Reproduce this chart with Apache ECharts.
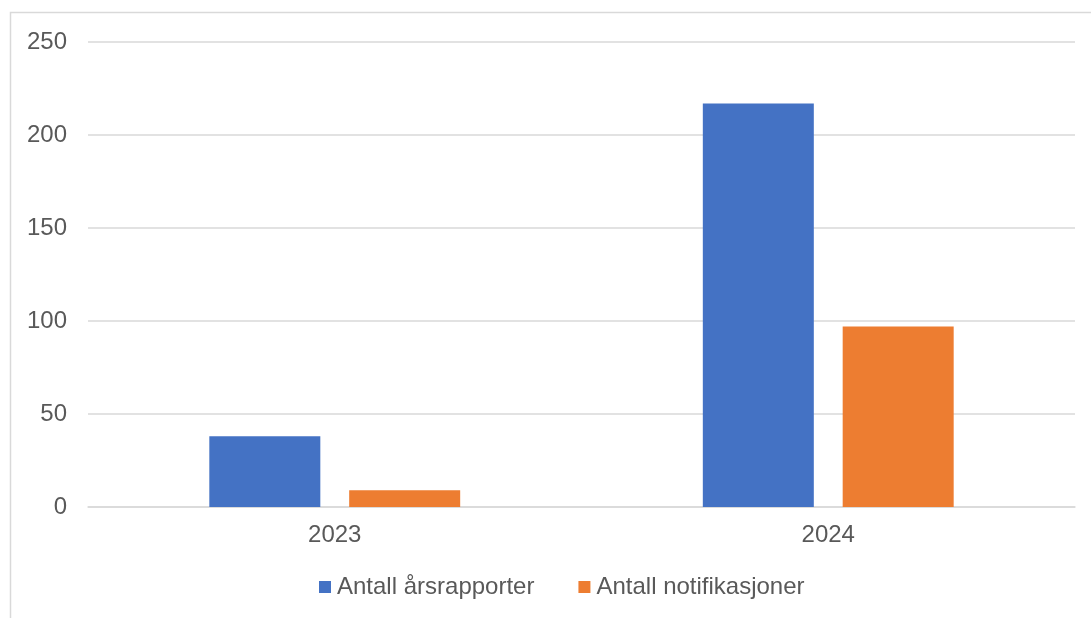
<!DOCTYPE html>
<html>
<head>
<meta charset="utf-8">
<script src="https://cdn.jsdelivr.net/npm/echarts@6/dist/echarts.min.js"></script>
<style>
  html, body { margin: 0; padding: 0; background: #ffffff; }
  #chart { width: 1091px; height: 618px; }
</style>
</head>
<body>
<div id="chart"></div>
<script>
// Categories and series
const years = ['2023', '2024'];
const arsrapporter = [38, 217];
const notifikasjoner = [9, 97];
const seriesNames = ['Antall årsrapporter', 'Antall notifikasjoner'];

const textColor = '#595959';
const fontFamily = '"Liberation Sans", Arial, sans-serif';

const chart = echarts.init(document.getElementById('chart'));
chart.setOption({
  animation: false,
  backgroundColor: '#ffffff',
  graphic: [{
    type: 'rect',
    shape: { x: 10.5, y: 12.5, width: 1200, height: 800 },
    style: { fill: 'none', stroke: '#d9d9d9', lineWidth: 1.5 },
    silent: true
  }],
  grid: { left: 88, right: 16, top: 42, bottom: 111, containLabel: false },
  legend: {
    data: seriesNames,
    top: 575,
    left: 319,
    padding: 0,
    itemWidth: 12,
    itemHeight: 12,
    itemGap: 44,
    icon: 'rect',
    textStyle: { color: textColor, fontSize: 24, fontFamily: fontFamily, padding: [0, 0, 0, 1] }
  },
  xAxis: {
    type: 'category',
    data: years,
    axisLine: { lineStyle: { color: '#d9d9d9', width: 1.5 } },
    axisTick: { show: false },
    axisLabel: { color: textColor, fontSize: 24, fontFamily: fontFamily, margin: 16 }
  },
  yAxis: {
    type: 'value',
    min: 0,
    max: 250,
    interval: 50,
    axisLine: { show: false },
    axisTick: { show: false },
    splitLine: { lineStyle: { color: '#d9d9d9', width: 1.5 } },
    axisLabel: { color: textColor, fontSize: 24, fontFamily: fontFamily, margin: 21 }
  },
  series: [
    {
      name: seriesNames[0],
      type: 'bar',
      data: arsrapporter,
      barWidth: 111,
      barGap: '26%',
      itemStyle: { color: '#4472c4' }
    },
    {
      name: seriesNames[1],
      type: 'bar',
      data: notifikasjoner,
      barWidth: 111,
      itemStyle: { color: '#ed7d31' }
    }
  ]
});
</script>
</body>
</html>
